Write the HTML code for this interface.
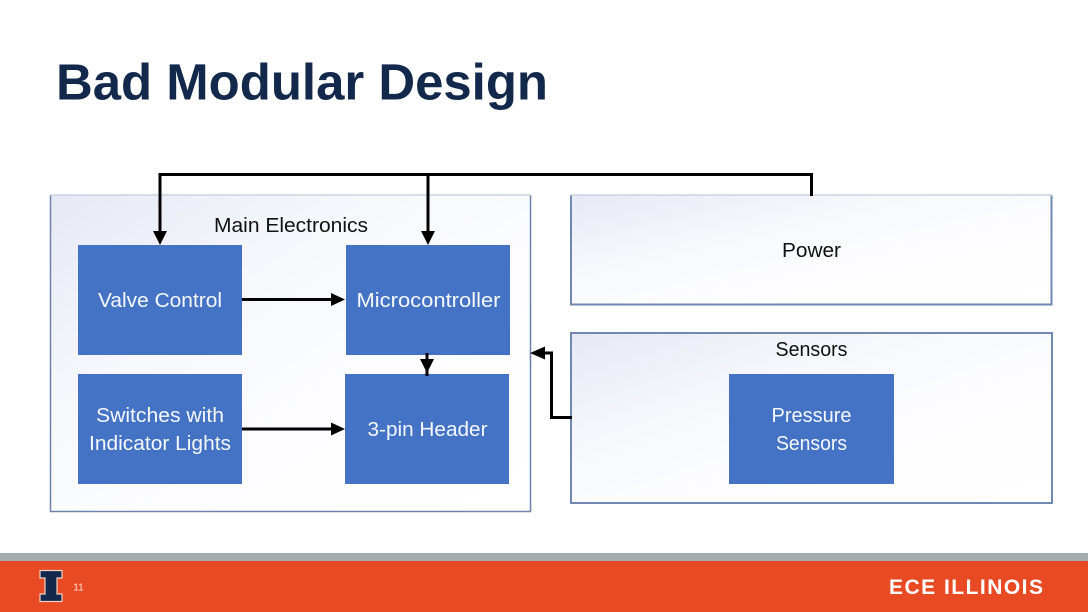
<!DOCTYPE html>
<html><head><meta charset="utf-8">
<style>
html,body{margin:0;padding:0;background:#fff;width:1088px;height:612px;overflow:hidden}
svg{display:block}
text{font-family:"Liberation Sans",sans-serif}
</style></head>
<body>
<svg width="1088" height="612" viewBox="0 0 1088 612" xmlns="http://www.w3.org/2000/svg">
<defs>
<linearGradient id="g" x1="0" y1="0" x2="1" y2="1">
<stop offset="0" stop-color="#e6e9f4"/><stop offset="0.35" stop-color="#f6f8fc"/><stop offset="0.6" stop-color="#fdfdff"/><stop offset="1" stop-color="#ffffff"/>
</linearGradient>
</defs>
<rect width="1088" height="612" fill="#fff"/>
<text x="56" y="99.500" font-size="51" font-weight="700" fill="#13294b" textLength="492" lengthAdjust="spacingAndGlyphs">Bad Modular Design</text>

<!-- containers -->
<path d="M530.500 195V511.500H50.500V195" fill="url(#g)" stroke="#6d83ab" stroke-width="1.500"/>
<path d="M50.500 195H530.500" stroke="#ccd3e2" stroke-width="1.500" fill="none"/>
<path d="M1051.500 195V304.500H571V195" fill="url(#g)" stroke="#7088b4" stroke-width="2"/>
<path d="M570 195H1052" stroke="#ccd3e2" stroke-width="1.500" fill="none"/>
<rect x="571" y="333" width="481" height="170" fill="url(#g)" stroke="#7088b4" stroke-width="2"/>

<!-- blue boxes -->
<g fill="#4472c4">
<rect x="78" y="245" width="164" height="110"/>
<rect x="346" y="245" width="164" height="110"/>
<rect x="78" y="374" width="164" height="110"/>
<rect x="345" y="374" width="164" height="110"/>
<rect x="729" y="374" width="165" height="110"/>
</g>

<!-- connectors -->
<g stroke="#000" stroke-width="3" fill="none">
<path d="M160 233V174.500H811.500V196"/>
<path d="M428 174V233"/>
<path d="M242 299.500H332"/>
<path d="M242 429H332"/>
<path d="M427 353V376"/>
<path d="M572 417.500H551.500V353H544"/>
</g>
<g fill="#000">
<path d="M153 231H167L160 245Z"/>
<path d="M421 231H435L428 245Z"/>
<path d="M331 293L345 299.500L331 306Z"/>
<path d="M331 422.500L345 429L331 435.500Z"/>
<path d="M420 359H434L427 373Z"/>
<path d="M530 353L545 346.500V359.500Z"/>
</g>

<!-- labels -->
<g font-size="20" fill="#111" text-anchor="middle">
<text x="291" y="232" textLength="154" lengthAdjust="spacingAndGlyphs">Main Electronics</text>
<text x="811.500" y="257" textLength="59" lengthAdjust="spacingAndGlyphs">Power</text>
<text x="811.500" y="356" textLength="72" lengthAdjust="spacingAndGlyphs">Sensors</text>
</g>
<g font-size="20" fill="#f6f8fc" text-anchor="middle">
<text x="160" y="307" textLength="124" lengthAdjust="spacingAndGlyphs">Valve Control</text>
<text x="428.500" y="307" textLength="144" lengthAdjust="spacingAndGlyphs">Microcontroller</text>
<text x="160" y="422" textLength="128" lengthAdjust="spacingAndGlyphs">Switches with</text>
<text x="160" y="450" textLength="142" lengthAdjust="spacingAndGlyphs">Indicator Lights</text>
<text x="427.500" y="436" textLength="120" lengthAdjust="spacingAndGlyphs">3-pin Header</text>
<text x="811.500" y="422" textLength="80" lengthAdjust="spacingAndGlyphs">Pressure</text>
<text x="811.500" y="450" textLength="71" lengthAdjust="spacingAndGlyphs">Sensors</text>
</g>

<!-- footer -->
<rect x="0" y="553" width="1088" height="8" fill="#a6abae"/>
<rect x="0" y="561" width="1088" height="51" fill="#e84a23"/>
<path d="M40 570.500H62V578H57V594H62V601.500H40V594H45V578H40Z" fill="#13294b" stroke="#eed2c6" stroke-width="1.200"/>
<text x="78.500" y="590.500" font-size="10" fill="#fbe6dc" text-anchor="middle">11</text>
<text x="889" y="594" font-size="21" font-weight="700" fill="#fff" textLength="154" lengthAdjust="spacing">ECE ILLINOIS</text>
</svg>
</body></html>
